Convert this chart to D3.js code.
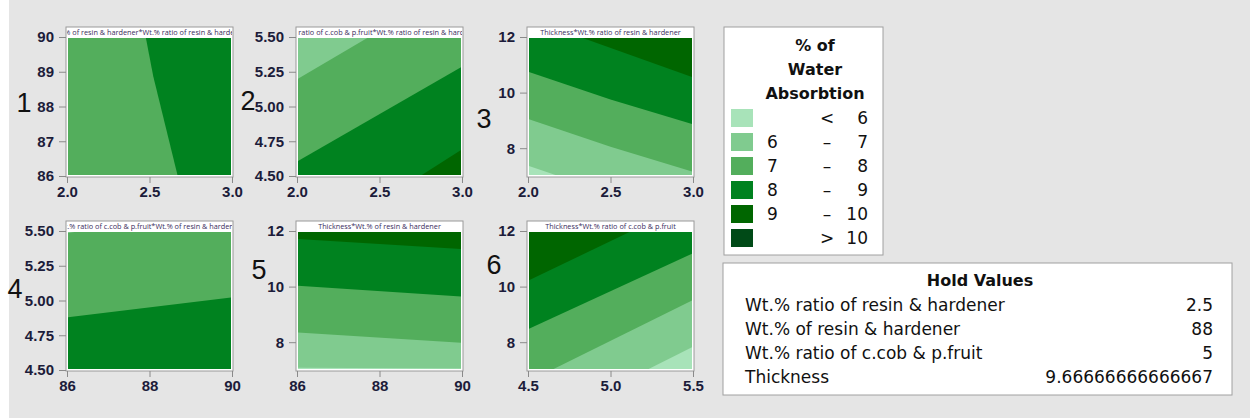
<!DOCTYPE html>
<html>
<head>
<meta charset="utf-8">
<script src="https://cdn.jsdelivr.net/npm/d3@7"></script>
<style>
  html, body { margin: 0; padding: 0; background: #fff; }
  svg { display: block; font-family: "Open Sans", "Noto Sans", sans-serif; }
  .tick text { fill: #1c1c3a; font-size: 15px; font-weight: 600; }
  .tick line { stroke: #8a8a8a; }
  .box text { font-family: "DejaVu Sans", sans-serif; fill: #111; }
</style>
</head>
<body>
<div id="chart"></div>
<script>
// ── Données ──────────────────────────────────────────────────────────────
const bandColors = ['#a8e3b9', '#80cb8f', '#53ae5c', '#00821f', '#006600', '#004a17'];
const legendLow  = ['', '6', '7', '8', '9', ''];
const legendSep  = ['<', '–', '–', '–', '–', '>'];
const legendHigh = ['6', '7', '8', '9', '10', '10'];
const legendTitle = ['% of', 'Water', 'Absorbtion'];

const holdNames  = ['Wt.% ratio of resin & hardener', 'Wt.% of resin & hardener',
                    'Wt.% ratio of c.cob & p.fruit', 'Thickness'];
const holdValues = ['2.5', '88', '5', '9.66666666666667'];

const panelTitles = [
  'Wt.% of resin & hardener*Wt.% ratio of resin & hardener',
  'Wt.% ratio of c.cob & p.fruit*Wt.% ratio of resin & hardener',
  'Thickness*Wt.% ratio of resin & hardener',
  'Wt.% ratio of c.cob & p.fruit*Wt.% of resin & hardener',
  'Thickness*Wt.% of resin & hardener',
  'Thickness*Wt.% ratio of c.cob & p.fruit'
];
const panelMarks = ['1', '2', '3', '4', '5', '6'];

const xDomains = [[2, 3], [2, 3], [2, 3], [86, 90], [86, 90], [4.5, 5.5]];
const yDomains = [[86, 90], [4.5, 5.5], [7, 12], [4.5, 5.5], [7, 12], [7, 12]];
const xTicks = [[2, 2.5, 3], [2, 2.5, 3], [2, 2.5, 3], [86, 88, 90], [86, 88, 90], [4.5, 5, 5.5]];
const yTicks = [[86, 87, 88, 89, 90], [4.5, 4.75, 5, 5.25, 5.5], [8, 10, 12],
                [4.5, 4.75, 5, 5.25, 5.5], [8, 10, 12], [8, 10, 12]];
const xFormats = ['.1f', '.1f', '.1f', 'd', 'd', '.1f'];
const yFormats = ['d', '.2f', 'd', '.2f', 'd', 'd'];

// bande de départ (valeur la plus basse visible) de chaque panneau
const baseBands = [2, 1, 0, 1, 0, 0];
// frontières : niveau, points (unités des données), coins du côté haut
const boundaries = [
  [ { level: 8, pts: [[2.477, 90], [2.523, 88.86], [2.671, 86]], corners: ['br', 'tr'] } ],
  [ { level: 7, pts: [[2, 5.196], [2.436, 5.5]], corners: ['tr', 'br', 'bl'] },
    { level: 8, pts: [[2, 4.603], [3, 5.286]], corners: ['br', 'bl'] },
    { level: 9, pts: [[2.747, 4.5], [3, 4.692]], corners: ['br'] } ],
  [ { level: 6, pts: [[2, 7.37], [2.184, 7]], corners: ['br', 'tr', 'tl'] },
    { level: 7, pts: [[2, 9.05], [2.5, 8.05], [3, 7.15]], corners: ['tr', 'tl'] },
    { level: 8, pts: [[2, 10.75], [2.5, 9.75], [3, 8.86]], corners: ['tr', 'tl'] },
    { level: 9, pts: [[2.315, 12], [3, 10.55]], corners: ['tr'] } ],
  [ { level: 7, pts: [[86, 5.485], [86.35, 5.5]], corners: ['tr', 'br', 'bl'] },
    { level: 8, pts: [[86, 4.879], [90, 5.023]], corners: ['br', 'bl'] } ],
  [ { level: 6, pts: [[86, 7.08], [90, 7.05]], corners: ['tr', 'tl'] },
    { level: 7, pts: [[86, 8.35], [90, 7.98]], corners: ['tr', 'tl'] },
    { level: 8, pts: [[86, 10.03], [90, 9.64]], corners: ['tr', 'tl'] },
    { level: 9, pts: [[86, 11.71], [90, 11.35]], corners: ['tr', 'tl'] } ],
  [ { level: 6, pts: [[5.219, 7], [5.5, 7.84]], corners: ['tr', 'tl', 'bl'] },
    { level: 7, pts: [[4.643, 7], [5.5, 9.52]], corners: ['tr', 'tl', 'bl'] },
    { level: 8, pts: [[4.5, 8.47], [5.5, 11.2]], corners: ['tr', 'tl'] },
    { level: 9, pts: [[4.5, 10.21], [5.128, 12]], corners: ['tl'] } ]
];

// ── Mise en page ─────────────────────────────────────────────────────────
const W = 1250, H = 418;
const colX = [67, 297, 528];
const rowY = [37, 231];
const pw = 165, ph = 139, titleH = 9;
const markPos = [[24, 112], [248, 110], [484, 128], [15, 298], [259, 279], [494, 274]];

const svg = d3.select('#chart').append('svg').attr('width', W).attr('height', H);
svg.append('rect').attr('width', W).attr('height', H).attr('fill', '#fff');
svg.append('rect').attr('x', 9).attr('y', 0).attr('width', W - 9).attr('height', H).attr('fill', '#e5e5e5');

const defs = svg.append('defs');

panelTitles.forEach((title, i) => {
  const x0 = colX[i % 3], y0 = rowY[Math.floor(i / 3)];
  const xD = xDomains[i], yD = yDomains[i];
  const x = d3.scaleLinear().domain(xD).range([x0, x0 + pw]);
  const y = d3.scaleLinear().domain(yD).range([y0 + ph, y0]);
  const corner = { tl: [xD[0], yD[1]], tr: [xD[1], yD[1]], br: [xD[1], yD[0]], bl: [xD[0], yD[0]] };

  const g = svg.append('g');
  // cadre + bandeau de titre
  g.append('rect').attr('x', x0 - 1).attr('y', y0 - titleH - 1)
    .attr('width', pw + 2).attr('height', ph + titleH + 2)
    .attr('fill', '#fff').attr('stroke', '#9a9a9a');

  const clipId = 'clip' + i;
  defs.append('clipPath').attr('id', clipId).append('rect')
    .attr('x', x0 + 1).attr('y', y0 + 1).attr('width', pw - 2).attr('height', ph - 2);
  const tclipId = 'tclip' + i;
  defs.append('clipPath').attr('id', tclipId).append('rect')
    .attr('x', x0).attr('y', y0 - titleH).attr('width', pw).attr('height', titleH);

  const fills = g.append('g').attr('clip-path', `url(#${clipId})`);
  fills.append('rect').attr('x', x0).attr('y', y0).attr('width', pw).attr('height', ph)
    .attr('fill', bandColors[baseBands[i]]);

  const line = d3.line().x(d => x(d[0])).y(d => y(d[1]));
  fills.selectAll('path')
    .data(boundaries[i])
    .join('path')
    .attr('d', b => line(b.pts.concat(b.corners.map(c => corner[c]))) + 'Z')
    .attr('fill', b => bandColors[b.level - 5]);

  g.append('text')
    .attr('clip-path', `url(#${tclipId})`)
    .attr('x', x0 + pw / 2).attr('y', y0 - 2)
    .attr('text-anchor', 'middle')
    .style('font-size', '7.3px').style('fill', '#3a2c5c')
    .text(title);

  // axes
  g.append('g').attr('transform', `translate(${x0 - 1},0)`)
    .call(d3.axisLeft(y).tickValues(yTicks[i]).tickFormat(d3.format(yFormats[i]))
      .tickSize(7).tickPadding(5))
    .call(a => a.select('.domain').remove());
  g.append('g').attr('transform', `translate(0,${y0 + ph + 1})`)
    .call(d3.axisBottom(x).tickValues(xTicks[i]).tickFormat(d3.format(xFormats[i]))
      .tickSize(6).tickPadding(3))
    .call(a => a.select('.domain').remove());

  // chiffres manuscrits
  svg.append('text')
    .attr('x', markPos[i][0]).attr('y', markPos[i][1])
    .attr('text-anchor', 'middle')
    .style('font-family', '"Liberation Sans", sans-serif')
    .style('font-size', '27px')
    .style('fill', '#111')
    .text(panelMarks[i]);
});

// ── Légende ──────────────────────────────────────────────────────────────
const lg = svg.append('g').attr('class', 'box');
lg.append('rect').attr('x', 724).attr('y', 27).attr('width', 159).attr('height', 228)
  .attr('fill', '#fff').attr('stroke', '#a0a0a0');
lg.selectAll('text.ttl').data(legendTitle).join('text')
  .attr('class', 'ttl')
  .attr('x', 815).attr('y', (d, k) => 51 + k * 24)
  .attr('text-anchor', 'middle')
  .style('font-size', '16px').style('font-weight', '700')
  .text(d => d);

const rowScale = d3.scaleBand().domain(d3.range(bandColors.length)).range([106, 250]);
const rows = lg.selectAll('g.row').data(bandColors).join('g').attr('class', 'row')
  .attr('transform', (d, k) => `translate(0,${rowScale(k)})`);
rows.append('rect').attr('x', 731).attr('y', 3).attr('width', 22).attr('height', 18)
  .attr('fill', d => d);
rows.append('text').attr('x', 767).attr('y', 18)
  .style('font-size', '17px')
  .text((d, k) => legendLow[k]);
rows.append('text').attr('x', 827).attr('y', 18).attr('text-anchor', 'middle')
  .style('font-size', '17px')
  .text((d, k) => legendSep[k]);
rows.append('text').attr('x', 868).attr('y', 18).attr('text-anchor', 'end')
  .style('font-size', '17px')
  .text((d, k) => legendHigh[k]);

// ── Hold Values ──────────────────────────────────────────────────────────
const hv = svg.append('g').attr('class', 'box');
hv.append('rect').attr('x', 723).attr('y', 263).attr('width', 509).attr('height', 132)
  .attr('fill', '#fff').attr('stroke', '#a0a0a0');
hv.append('text').attr('x', 980).attr('y', 286).attr('text-anchor', 'middle')
  .style('font-size', '16px').style('font-weight', '700')
  .text('Hold Values');
hv.selectAll('text.name').data(holdNames).join('text').attr('class', 'name')
  .attr('x', 745).attr('y', (d, k) => 311 + k * 24)
  .style('font-size', '17px').text(d => d);
hv.selectAll('text.val').data(holdValues).join('text').attr('class', 'val')
  .attr('x', 1213).attr('y', (d, k) => 311 + k * 24).attr('text-anchor', 'end')
  .style('font-size', '17px').text(d => d);
</script>
</body>
</html>
